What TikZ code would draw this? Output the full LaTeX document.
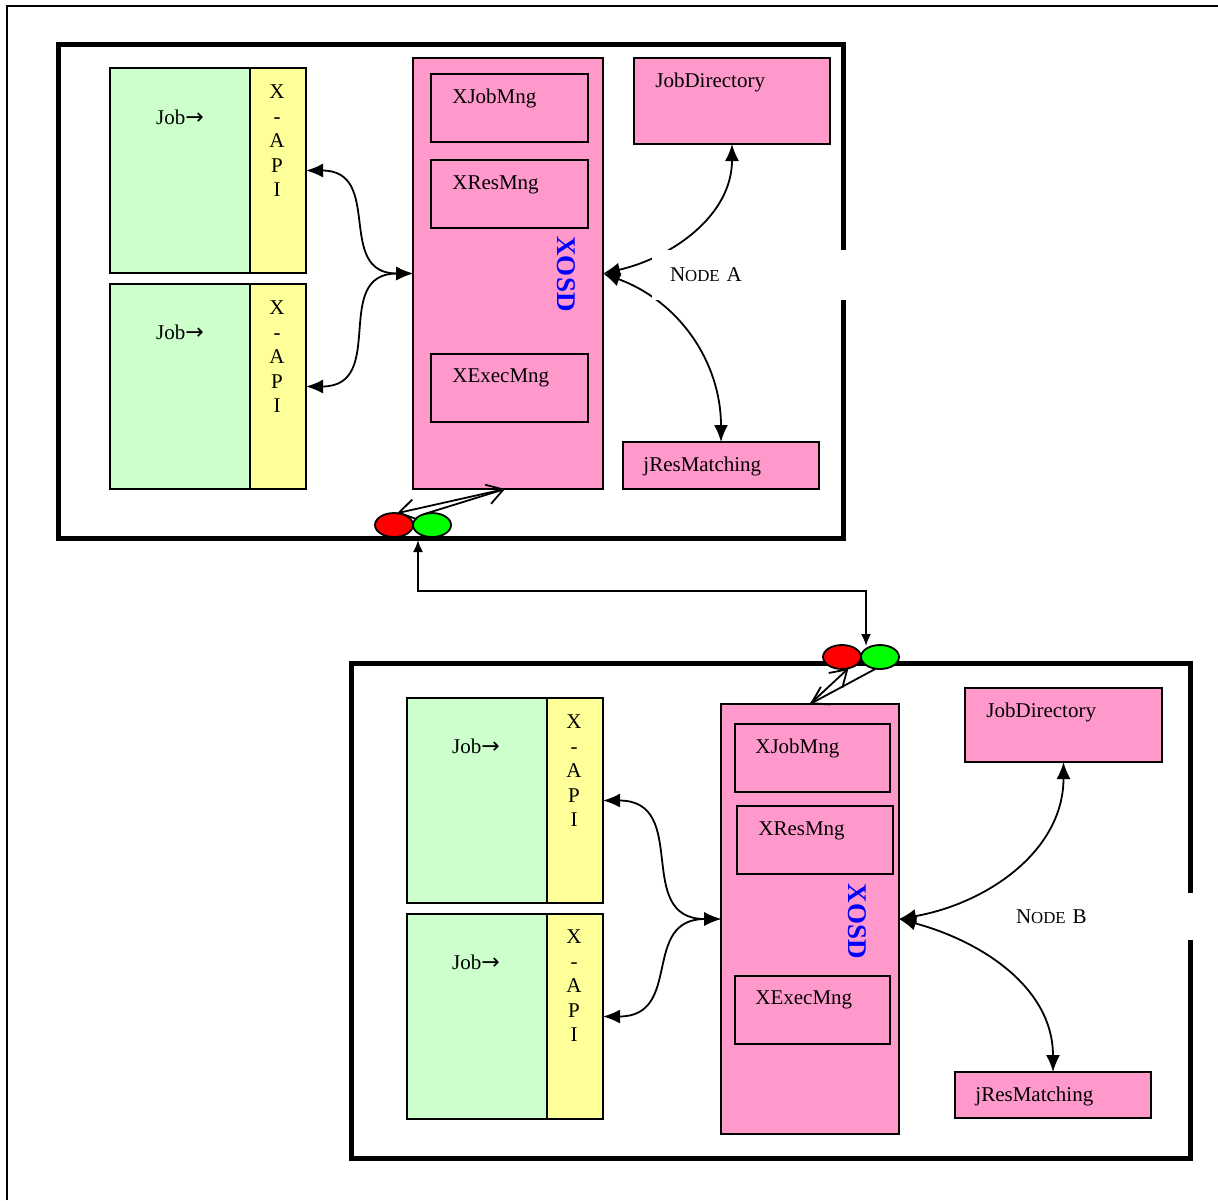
\documentclass[tikz,border=0pt]{standalone}
\usepackage{fontspec}
\setmainfont{Liberation Serif}
\newfontfamily\arrowfont{DejaVu Sans}
\usetikzlibrary{arrows.meta,shapes.geometric}
\definecolor{jobgreen}{HTML}{CCFFCC}
\definecolor{apiyellow}{HTML}{FFFF99}
\definecolor{osdpink}{HTML}{FF99CC}
\newcommand\fakesc[1]{{\fontsize{8.4}{10}\selectfont #1}}
\newcommand\jobarrow{Job{\arrowfont\fontsize{11}{12}\selectfont →}}
\begin{document}
\begin{tikzpicture}[x=0.5pt,y=0.5pt,
  font=\fontsize{10.5}{12.25}\selectfont,
  box/.style={draw, line width=0.9pt, inner sep=0pt, outer sep=0pt, anchor=north west},
  jobbox/.style={box, fill=jobgreen, minimum width=70pt, minimum height=102.5pt},
  apibox/.style={box, fill=apiyellow, minimum width=28pt, minimum height=102.5pt},
  pinkbox/.style={box, fill=osdpink},
  framebox/.style={draw, line width=2.5pt, inner sep=0pt, outer sep=0pt, anchor=north west},
  lbl/.style={anchor=west, inner sep=0pt},
  apitext/.style={align=center, inner sep=0pt},
  osdtext/.style={rotate=-90, inner sep=0pt, text=blue, font=\fontsize{13.5}{16}\selectfont\bfseries},
  lamp/.style={ellipse, draw, line width=0.9pt, inner sep=0pt, outer sep=0pt, minimum width=19pt, minimum height=12pt},
  conn/.style={line width=0.9pt, looseness=1.35, {Latex[length=8.5pt,width=7pt]}-{Latex[length=8.5pt,width=7pt]}},
  link/.style={line width=0.9pt, {Latex[length=6pt,width=5pt]}-{Latex[length=6pt,width=5pt]}},
  msg/.style={line width=0.9pt, -{Straight Barb[length=8pt,width=10pt]}},
  nodelabel/.style={fill=white, inner ysep=0pt, outer sep=0pt, anchor=north west, align=left}
]
\useasboundingbox (0,0) rectangle (1218,-1200);
\fill[white] (0,0) rectangle (1218,-1200);
% page border
\draw[line width=1pt] (7,-1200) -- (7,-6) -- (1218,-6);

% ---------------- Node A ----------------
\node[framebox, minimum width=392.5pt, minimum height=247pt] (frameA) at (58,-44) {};
\node[jobbox] (jobA1) at (110,-68) {};
\node[apibox] (apiA1) at (250,-68) {};
\node[jobbox] (jobA2) at (110,-284) {};
\node[apibox] (apiA2) at (250,-284) {};
\node at (180,-117) {\jobarrow};
\node at (180,-332) {\jobarrow};
\node[apitext] at (277,-141) {X\\-\\A\\P\\I};
\node[apitext] at (277,-357) {X\\-\\A\\P\\I};

\node[pinkbox, minimum width=95pt, minimum height=215.5pt] (xosdA) at (413,-58) {};
\node[pinkbox, minimum width=78.5pt, minimum height=34pt] (jmA) at (431,-74) {};
\node[pinkbox, minimum width=78.5pt, minimum height=34pt] (rmA) at (431,-160) {};
\node[pinkbox, minimum width=78.5pt, minimum height=34pt] (emA) at (431,-354) {};
\node[lbl] at (452,-98) {XJobMng};
\node[lbl] at (452,-185) {XResMng};
\node[lbl] at (452,-378) {XExecMng};
\node[osdtext] at (566,-274) {XOSD};

\node[pinkbox, minimum width=98pt, minimum height=43pt] (jdA) at (634,-58) {};
\node[pinkbox, minimum width=98pt, minimum height=23.5pt] (jrA) at (623,-442) {};
\node[lbl] at (655,-82) {JobDirectory};
\node[lbl] at (643,-466) {jResMatching};

\draw[conn] (apiA1.east) to[out=0,in=180] (xosdA.west);
\draw[conn] (apiA2.east) to[out=0,in=180] (xosdA.west);
\draw[conn, looseness=1] (xosdA.east) to[out=13,in=-90] (jdA.south);
\draw[conn, looseness=1] (xosdA.east) to[out=-20,in=90] (jrA.north);

\node[nodelabel, minimum height=25pt, inner xsep=9pt, text width=79.5pt] (labA) at (652,-250) {N\fakesc{ODE} A};

\node[lamp, fill=red] (redA) at (394,-525) {};
\node[lamp, fill=green] (greenA) at (432,-525) {};
\draw[msg] ([shift={(-3,0)}]xosdA.south) -- (redA.75);
\draw[msg] (greenA.125) -- ([shift={(-3,0)}]xosdA.south);

% ---------------- Node B ----------------
\node[framebox, minimum width=419.5pt, minimum height=247.5pt] (frameB) at (351,-663) {};
\node[jobbox] (jobB1) at (407,-698) {};
\node[apibox] (apiB1) at (547,-698) {};
\node[jobbox] (jobB2) at (407,-914) {};
\node[apibox] (apiB2) at (547,-914) {};
\node at (476,-746) {\jobarrow};
\node at (476,-962) {\jobarrow};
\node[apitext] at (574,-771) {X\\-\\A\\P\\I};
\node[apitext] at (574,-986) {X\\-\\A\\P\\I};

\node[pinkbox, minimum width=89pt, minimum height=215pt] (xosdB) at (721,-704) {};
\node[pinkbox, minimum width=77.5pt, minimum height=34pt] (jmB) at (735,-724) {};
\node[pinkbox, minimum width=78pt, minimum height=34pt] (rmB) at (737,-806) {};
\node[pinkbox, minimum width=77.5pt, minimum height=34pt] (emB) at (735,-976) {};
\node[lbl] at (755,-748) {XJobMng};
\node[lbl] at (758,-831) {XResMng};
\node[lbl] at (755,-1000) {XExecMng};
\node[osdtext] at (857,-921) {XOSD};

\node[pinkbox, minimum width=98.5pt, minimum height=37pt] (jdB) at (965,-688) {};
\node[pinkbox, minimum width=98pt, minimum height=23pt] (jrB) at (955,-1072) {};
\node[lbl] at (986,-712) {JobDirectory};
\node[lbl] at (975,-1096) {jResMatching};

\draw[conn] (apiB1.east) to[out=0,in=180] (xosdB.west);
\draw[conn] (apiB2.east) to[out=0,in=180] (xosdB.west);
\draw[conn, looseness=1] (xosdB.east) to[out=10,in=-90] (jdB.south);
\draw[conn, looseness=1] (xosdB.east) to[out=-15,in=90] (jrB.north);

\node[nodelabel, minimum height=23.5pt, inner xsep=10.5pt, text width=78pt] (labB) at (995,-893) {N\fakesc{ODE} B};

\node[lamp, fill=red] (redB) at (842,-657) {};
\node[lamp, fill=green] (greenB) at (880,-657) {};
\draw[msg] (greenB.250) -- (xosdB.north);
\draw[msg] (xosdB.north) -- (redB.-60);

% ---------------- link between the nodes ----------------
\coordinate (linkA) at (418,-540);
\coordinate (linkB) at (866,-646);
\draw[link] (linkA) -- ++(0,-51) -| (linkB);
\end{tikzpicture}
\end{document}
